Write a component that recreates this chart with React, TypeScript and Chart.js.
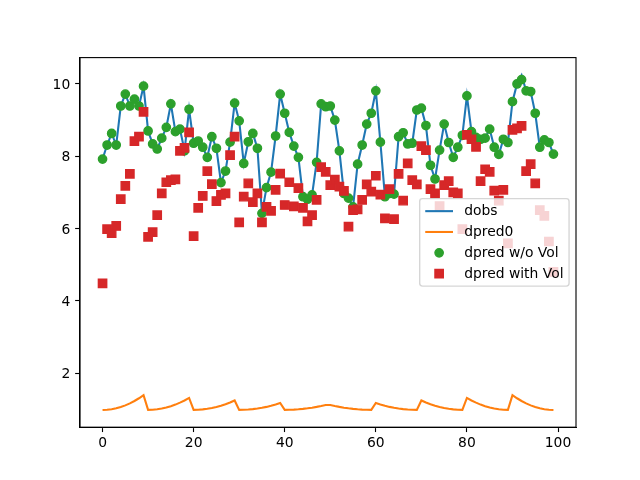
import React, { useEffect, useRef } from "react";
import { Chart, registerables } from "chart.js";

Chart.register(...registerables);

// ---- data ----
const dobs = [
  7.92, 8.31, 8.63, 8.31, 9.39, 9.72, 9.39, 9.58, 9.39, 9.94,
  8.70, 8.34, 8.20, 8.50, 8.80, 9.45, 8.68, 8.75, 8.15, 9.30,
  8.36, 8.42, 8.25, 7.97, 8.54, 8.22, 7.27, 7.59, 8.39, 9.47,
  8.98, 7.80, 8.40, 8.63, 8.22, 6.42, 7.13, 7.56, 8.56, 9.72,
  9.19, 8.66, 8.28, 7.97, 6.88, 6.81, 6.93, 7.83, 9.45, 9.37,
  9.39, 9.00, 8.15, 6.97, 6.84, 6.60, 7.78, 8.31, 8.89, 9.19,
  9.81, 8.39, 6.88, 6.97, 6.95, 8.54, 8.65, 8.34, 8.36, 9.28,
  9.33, 8.85, 7.75, 7.37, 8.17, 8.89, 8.38, 7.97, 8.25, 8.58,
  9.67, 8.68, 8.52, 8.47, 8.50, 8.75, 8.25, 8.05, 8.47, 8.38,
  9.51, 10.00, 10.24, 9.81, 9.79, 9.19, 8.25, 8.45, 8.38, 8.06,
];

const dpred0 = [
  0.977, 0.982, 0.997, 1.023, 1.058, 1.104, 1.159, 1.225, 1.301, 1.387,
  0.980, 0.984, 0.996, 1.017, 1.045, 1.082, 1.126, 1.180, 1.240, 1.310,
  0.980, 0.983, 0.993, 1.009, 1.031, 1.060, 1.095, 1.137, 1.185, 1.240,
  0.980, 0.982, 0.989, 1.000, 1.016, 1.037, 1.062, 1.093, 1.128, 1.170,
  0.980, 0.982, 0.987, 0.995, 1.007, 1.022, 1.040, 1.062, 1.087, 1.115,
  1.115, 1.087, 1.062, 1.040, 1.022, 1.007, 0.995, 0.987, 0.982, 0.980,
  1.170, 1.128, 1.093, 1.062, 1.037, 1.016, 1.000, 0.989, 0.982, 0.980,
  1.240, 1.185, 1.137, 1.095, 1.060, 1.031, 1.009, 0.993, 0.983, 0.980,
  1.310, 1.240, 1.180, 1.126, 1.082, 1.045, 1.017, 0.996, 0.984, 0.980,
  1.387, 1.301, 1.225, 1.159, 1.104, 1.058, 1.023, 0.997, 0.982, 0.977,
];

const dpredNoVol = [
  7.92, 8.31, 8.63, 8.31, 9.39, 9.72, 9.39, 9.58, 9.39, 9.94,
  8.70, 8.34, 8.20, 8.50, 8.80, 9.45, 8.68, 8.75, 8.15, 9.30,
  8.36, 8.42, 8.25, 7.97, 8.54, 8.22, 7.27, 7.59, 8.39, 9.47,
  8.98, 7.80, 8.40, 8.63, 8.22, 6.42, 7.13, 7.56, 8.56, 9.72,
  9.19, 8.66, 8.28, 7.97, 6.88, 6.81, 6.93, 7.83, 9.45, 9.37,
  9.39, 9.00, 8.15, 6.97, 6.84, 6.60, 7.78, 8.31, 8.89, 9.19,
  9.81, 8.39, 6.88, 6.97, 6.95, 8.54, 8.65, 8.34, 8.36, 9.28,
  9.33, 8.85, 7.75, 7.37, 8.17, 8.89, 8.38, 7.97, 8.25, 8.58,
  9.67, 8.68, 8.52, 8.47, 8.50, 8.75, 8.25, 8.05, 8.47, 8.38,
  9.51, 10.00, 10.12, 9.81, 9.79, 9.19, 8.25, 8.45, 8.38, 8.06,
];

const dpredVol = [
  4.48, 5.98, 5.87, 6.07, 6.81, 7.18, 7.51, 8.42, 8.54, 9.23,
  5.77, 5.90, 6.37, 6.97, 7.28, 7.34, 7.36, 8.15, 8.23, 8.66,
  5.79, 6.57, 6.90, 7.59, 7.23, 6.76, 6.93, 6.97, 8.03, 8.54,
  6.17, 6.88, 7.25, 6.73, 6.97, 6.17, 6.60, 6.49, 7.07, 7.52,
  6.65, 7.28, 6.61, 7.12, 6.57, 6.20, 6.37, 6.79, 7.70, 7.57,
  7.20, 7.35, 7.16, 7.04, 6.05, 6.51, 6.53, 6.79, 7.22, 7.02,
  7.46, 6.94, 6.28, 7.09, 6.26, 7.51, 6.77, 7.80, 7.34, 7.22,
  8.28, 8.17, 7.09, 6.97, 6.62, 7.20, 7.31, 7.00, 6.97, 5.98,
  8.59, 8.47, 8.26, 7.31, 7.64, 7.57, 7.05, 6.77, 7.07, 5.59,
  8.73, 8.77, 8.84, 7.59, 7.78, 7.25, 6.51, 6.35, 5.64, 4.80,
];

const xTicks = [0, 20, 40, 60, 80, 100];
const yTicks = [2, 4, 6, 8, 10];
const seriesLabels = ["dobs", "dpred0", "dpred w/o Vol", "dpred with Vol"];

// ---- style ----
const X_MIN = -4.95;
const X_MAX = 103.95;
const Y_MIN = 0.5;
const Y_MAX = 10.73;
const PX = 100 / 72;
const FONT = "DejaVu Sans";
const FS = 10 * PX;
const BLUE = "#1f77b4";
const ORANGE = "#ff7f0e";
const GREEN = "#2ca02c";
const RED = "#d62728";

export default function App() {
  const ref = useRef<HTMLCanvasElement>(null);

  useEffect(() => {
    const canvas = ref.current;
    if (!canvas) return;
    const toPts = (arr: number[]) => arr.map((v, i) => ({ x: i, y: v }));

    const mplPlugin = {
      id: "mplFrameLegend",
      afterDatasetsDraw(chart: any) {
        const { ctx, chartArea: a } = chart;
        ctx.save();
        // spines
        ctx.strokeStyle = "#000";
        ctx.lineWidth = 0.8 * PX;
        ctx.strokeRect(a.left, a.top, a.right - a.left, a.bottom - a.top);

        // legend (center right)
        ctx.font = `${FS}px "${FONT}"`;
        const tw = Math.max(...seriesLabels.map((l) => ctx.measureText(l).width));
        const bp = 0.4 * FS, hl = 2 * FS, htp = 0.8 * FS, ls = 0.5 * FS, bap = 0.5 * FS;
        const rowH = FS;
        const w = 2 * bp + hl + htp + tw;
        const h = 2 * bp + 4 * rowH + 3 * ls;
        const x0 = a.right - bap - w;
        const y0 = (a.top + a.bottom) / 2 - h / 2;
        ctx.beginPath();
        ctx.roundRect(x0, y0, w, h, 0.2 * FS);
        ctx.fillStyle = "rgba(255,255,255,0.8)";
        ctx.fill();
        ctx.strokeStyle = "rgba(204,204,204,0.8)";
        ctx.lineWidth = 1 * PX;
        ctx.stroke();

        const colors = [BLUE, ORANGE, GREEN, RED];
        seriesLabels.forEach((label, i) => {
          const cy = y0 + bp + rowH * (i + 0.5) + ls * i;
          const hx0 = x0 + bp;
          const hx1 = hx0 + hl;
          const mx = (hx0 + hx1) / 2;
          ctx.fillStyle = colors[i];
          ctx.strokeStyle = colors[i];
          if (i < 2) {
            ctx.lineWidth = 1.5 * PX;
            ctx.beginPath();
            ctx.moveTo(hx0, cy);
            ctx.lineTo(hx1, cy);
            ctx.stroke();
          } else if (i === 2) {
            ctx.lineWidth = 1 * PX;
            ctx.beginPath();
            ctx.arc(mx, cy, 3 * PX, 0, Math.PI * 2);
            ctx.fill();
            ctx.stroke();
          } else {
            ctx.lineWidth = 1 * PX;
            const s = 6 * PX;
            ctx.beginPath();
            ctx.rect(mx - s / 2, cy - s / 2, s, s);
            ctx.fill();
            ctx.stroke();
          }
          ctx.fillStyle = "#000";
          ctx.textAlign = "left";
          ctx.textBaseline = "middle";
          ctx.fillText(label, hx1 + htp, cy + 0.5);
        });
        ctx.restore();
      },
    };

    const tickFont = { family: FONT, size: FS };
    const grid = {
      display: true,
      drawOnChartArea: false,
      drawTicks: true,
      tickLength: 3.5 * PX,
      tickWidth: 0.8 * PX,
      tickColor: "#000",
    };
    const border = { display: true, color: "#000", width: 0.8 * PX };

    const chart = new Chart(canvas, {
      type: "line",
      data: {
        datasets: [
          {
            label: seriesLabels[0],
            data: toPts(dobs),
            borderColor: BLUE,
            backgroundColor: BLUE,
            borderWidth: 1.5 * PX,
            pointRadius: 0,
            pointHoverRadius: 0,
            tension: 0,
            fill: false,
            order: 4,
          },
          {
            label: seriesLabels[1],
            data: toPts(dpred0),
            borderColor: ORANGE,
            backgroundColor: ORANGE,
            borderWidth: 1.5 * PX,
            pointRadius: 0,
            pointHoverRadius: 0,
            tension: 0,
            fill: false,
            order: 3,
          },
          {
            label: seriesLabels[2],
            data: toPts(dpredNoVol),
            showLine: false,
            pointStyle: "circle",
            pointRadius: 3 * PX,
            pointHoverRadius: 3 * PX,
            pointBackgroundColor: GREEN,
            pointBorderColor: GREEN,
            pointBorderWidth: 1 * PX,
            borderColor: GREEN,
            backgroundColor: GREEN,
            order: 2,
          },
          {
            label: seriesLabels[3],
            data: toPts(dpredVol),
            showLine: false,
            pointStyle: "rect",
            pointRadius: (6 * PX) / (2 * Math.SQRT1_2),
            pointHoverRadius: (6 * PX) / (2 * Math.SQRT1_2),
            pointBackgroundColor: RED,
            pointBorderColor: RED,
            pointBorderWidth: 1 * PX,
            borderColor: RED,
            backgroundColor: RED,
            order: 1,
          },
        ],
      },
      options: {
        animation: false,
        responsive: false,
        events: [],
        layout: { padding: { left: 0, top: 57.6, right: 64, bottom: 0 } },
        plugins: {
          legend: { display: false },
          tooltip: { enabled: false },
        },
        scales: {
          x: {
            type: "linear",
            min: X_MIN,
            max: X_MAX,
            afterBuildTicks: (s: any) => {
              s.ticks = xTicks.map((v) => ({ value: v }));
            },
            afterFit: (s: any) => {
              s.height = 480 - 427.2;
            },
            ticks: {
              font: tickFont,
              color: "#000",
              padding: 3.5 * PX - 2,
              autoSkip: false,
              maxRotation: 0,
              callback: (v: any) => String(v),
            },
            grid,
            border,
          },
          y: {
            type: "linear",
            min: Y_MIN,
            max: Y_MAX,
            afterBuildTicks: (s: any) => {
              s.ticks = yTicks.map((v) => ({ value: v }));
            },
            afterFit: (s: any) => {
              s.width = 80;
            },
            ticks: {
              font: tickFont,
              color: "#000",
              padding: 3.5 * PX,
              labelOffset: 1.5,
              autoSkip: false,
              callback: (v: any) => String(v),
            },
            grid,
            border,
          },
        },
      },
      plugins: [mplPlugin],
    } as any);

    return () => chart.destroy();
  }, []);

  return (
    <div style={{ position: "absolute", left: 0, top: 0, width: 640, height: 480, background: "#fff" }}>
      <canvas ref={ref} width={640} height={480} style={{ display: "block", width: 640, height: 480 }} />
    </div>
  );
}
